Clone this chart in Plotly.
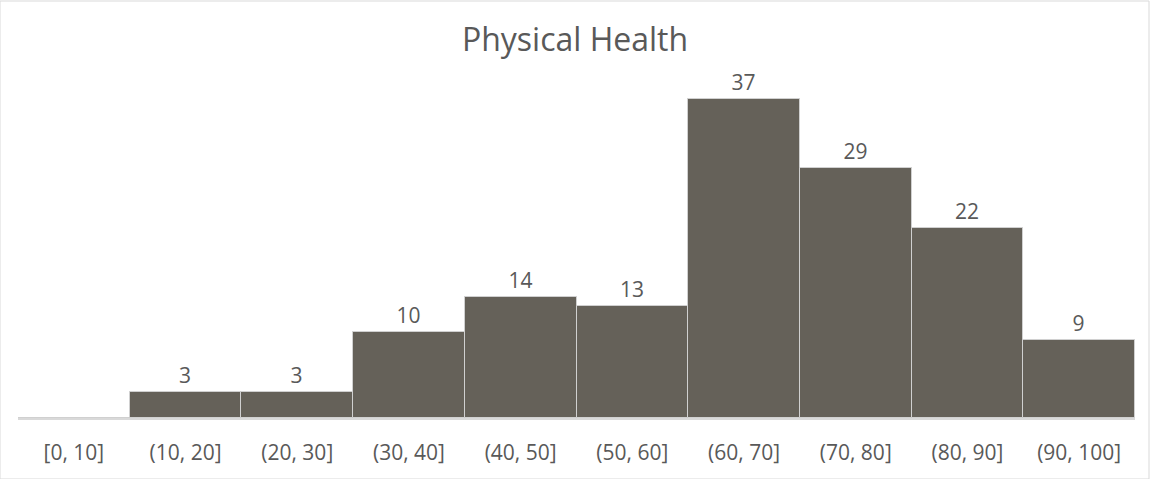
import plotly.graph_objects as go

categories = ["[0, 10]", "(10, 20]", "(20, 30]", "(30, 40]", "(40, 50]",
              "(50, 60]", "(60, 70]", "(70, 80]", "(80, 90]", "(90, 100]"]
values = [0, 3, 3, 10, 14, 13, 37, 29, 22, 9]
labels = ["" if v == 0 else str(v) for v in values]

fig = go.Figure(go.Bar(
    x=categories, y=values, text=labels, textposition="outside",
    textfont=dict(size=21, color="#595959", family="Open Sans"),
    marker=dict(color="#656159", line=dict(color="#d0d0d0", width=1)),
    cliponaxis=False,
))

fig.update_layout(
    width=1150, height=479,
    margin=dict(l=18, r=15, t=60, b=61),
    paper_bgcolor="white", plot_bgcolor="white",
    bargap=0,
    title=dict(text="Physical Health", x=0.5, xanchor="center", y=0.94, yanchor="top",
               font=dict(size=32, color="#595959", family="Open Sans")),
    xaxis=dict(showgrid=False, showline=True, linecolor="#d9d9d9", linewidth=2,
               ticks="", tickfont=dict(size=21, color="#595959", family="Open Sans"),
               ticklabelstandoff=15),
    yaxis=dict(range=[0, 41.5], visible=False),
    showlegend=False,
    shapes=[dict(type="rect", xref="paper", yref="paper", x0=-18/1117, x1=1+14/1117,
                 y0=-61/358, y1=1+59/358, line=dict(color="#d9d9d9", width=1))],
)

fig.write_html("out.html")
